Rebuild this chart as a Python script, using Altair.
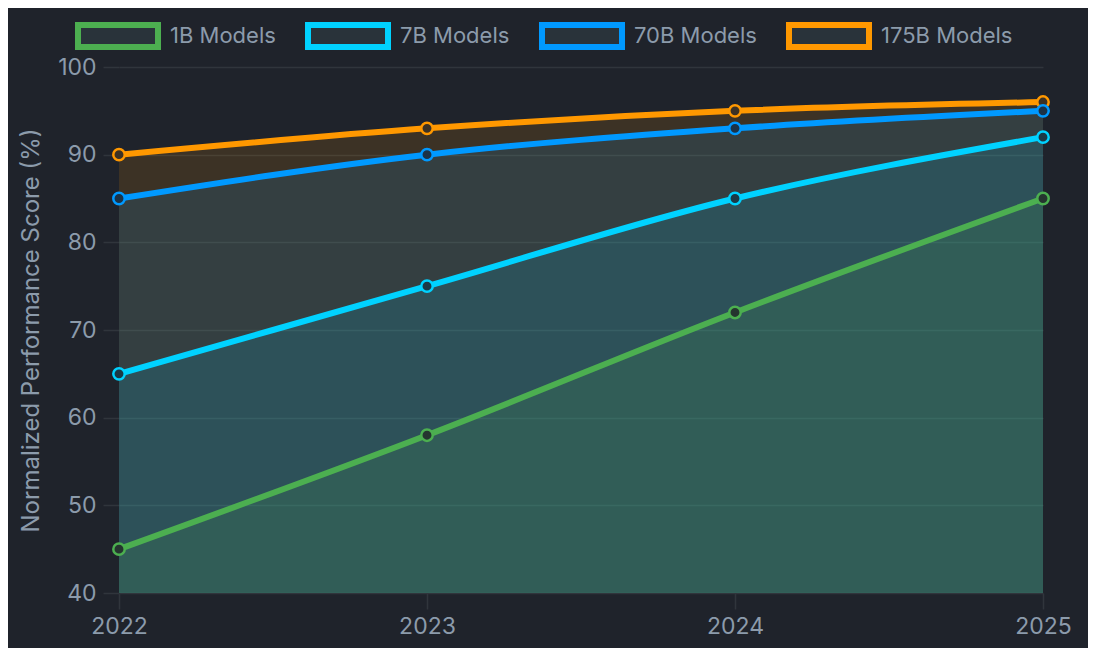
import altair as alt
import pandas as pd

years = ["2022", "2023", "2024", "2025"]
series_names = ["1B Models", "7B Models", "70B Models", "175B Models"]
vals_1b = [45, 58, 72, 85]
vals_7b = [65, 75, 85, 92]
vals_70b = [85, 90, 93, 95]
vals_175b = [90, 93, 95, 96]
colors = ["#4caf50", "#00d2ff", "#0099ff", "#ff9800"]

all_vals = [vals_1b, vals_7b, vals_70b, vals_175b]
rows = []
for name, vals in zip(series_names, all_vals):
    for yr, v in zip(years, vals):
        rows.append({"year": yr, "series": name, "score": v})
df = pd.DataFrame(rows)

BG = "#1f232b"
TXT = "#8c9bab"
GRID = "#30353c"
FONT = "Inter"
ALPHA = 0.13

legend = alt.Legend(
    title=None,
    orient="none",
    direction="horizontal",
    columns=4,
    legendX=-44,
    legendY=-74,
    symbolType="M-1,-0.275L1,-0.275L1,0.275L-1,0.275Z",
    symbolSize=6400,
    symbolStrokeWidth=6,
    symbolFillColor="#29333a",
    labelFontSize=22,
    labelFont=FONT,
    labelColor=TXT,
    labelOffset=9,
    columnPadding=20,
    padding=0,
)

color = alt.Color("series:N", scale=alt.Scale(domain=series_names, range=colors), legend=legend)
x = alt.X("year:O", scale=alt.Scale(type="point", padding=0), title=None,
          axis=alt.Axis(labelAngle=0))
y = alt.Y("score:Q", scale=alt.Scale(domain=[40, 100], zero=False, nice=False),
          title="Normalized Performance Score (%)",
          axis=alt.Axis(values=[40, 50, 60, 70, 80, 90, 100]))

draw_order = ["175B Models", "70B Models", "7B Models", "1B Models"]
layers = []
for name in draw_order:
    c = colors[series_names.index(name)]
    base = alt.Chart(df).transform_filter(alt.datum.series == name)
    layers.append(
        base.mark_area(interpolate="monotone", fill=c, fillOpacity=ALPHA).encode(
            x=x, y=y, y2=alt.datum(40)
        )
    )
for name in draw_order:
    c = colors[series_names.index(name)]
    base = alt.Chart(df).transform_filter(alt.datum.series == name)
    layers.append(
        base.mark_line(interpolate="monotone", strokeWidth=6).encode(x=x, y=y, color=color)
    )
    layers.append(
        base.mark_point(shape="circle", filled=True, size=130, opacity=1, fill=BG,
                        strokeWidth=0).encode(x=x, y=y)
    )
    layers.append(
        base.mark_point(shape="circle", filled=True, size=130, strokeWidth=2.5,
                        opacity=1, fill=c, fillOpacity=ALPHA, stroke=c).encode(x=x, y=y)
    )

chart = alt.layer(*layers).properties(
    width=924,
    height=526,
    padding={"left": 111, "top": 59, "right": 45, "bottom": 55},
    autosize=alt.AutoSizeParams(type="none"),
).configure(
    background=BG,
    font=FONT,
).configure_view(
    stroke=None,
).configure_axis(
    gridColor=GRID,
    gridWidth=1.5,
    tickColor=GRID,
    tickWidth=1.5,
    tickSize=16,
    domain=False,
    labelColor=TXT,
    labelFont=FONT,
    labelFontSize=23,
    titleColor=TXT,
    titleFont=FONT,
    titleFontSize=24,
    titleFontWeight="normal",
).configure_axisY(
    labelPadding=7,
    titlePadding=14,
).configure_axisX(
    labelPadding=6,
)

chart.save("out.html", embed_options={"renderer": "svg", "actions": False})
